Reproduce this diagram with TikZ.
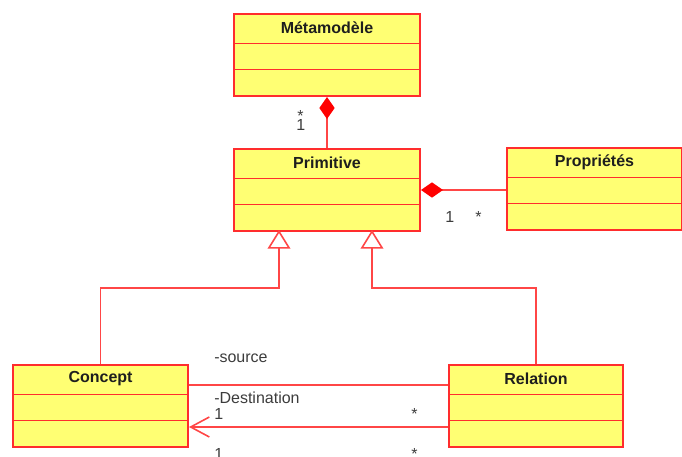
\documentclass[tikz,border=0pt]{standalone}
\usepackage{fontspec}
\setmainfont{Liberation Sans}
\usetikzlibrary{arrows.meta}
\definecolor{umlfill}{RGB}{255,255,115}
\definecolor{umlborder}{RGB}{255,45,45}
\definecolor{umlline}{RGB}{255,70,70}
\definecolor{titlecol}{RGB}{30,30,30}
\definecolor{labelcol}{RGB}{60,60,60}
\tikzset{
  clsbox/.style={draw=umlborder, fill=umlfill, line width=1.5pt, anchor=north west,
    inner sep=0pt, minimum height=61.5pt},
  sepline/.style={draw=umlborder, line width=1.4pt},
  clstitle/.style={font=\bfseries\fontsize{12}{14}\selectfont, text=titlecol, inner sep=0pt},
  lbl/.style={font=\fontsize{12}{14}\selectfont, text=labelcol, inner sep=0pt, anchor=base west},
  conn/.style={draw=umlline, line width=1.2pt},
  compo/.style={conn, {Diamond[length=16.5pt,width=11.5pt,fill=red,color=red]}-},
  gen/.style={conn, -{Triangle[open,length=14pt,width=17pt,fill=white]}},
  nav/.style={conn, {Straight Barb[length=14pt,width=15pt]}-}
}
\newcommand{\umlclass}[5]{%
  \node[clsbox, minimum width=#4*0.75pt] (#1) at (#2,#3) {};
  \draw[sepline] ([yshift=-30.5*0.75pt]#1.north west) -- ([yshift=-30.5*0.75pt]#1.north east);
  \draw[sepline] ([yshift=-56.5*0.75pt]#1.north west) -- ([yshift=-56.5*0.75pt]#1.north east);
  \node[clstitle] (#1t) at ([yshift=-15*0.75pt]#1.north) {#5};
}
\begin{document}
\begin{tikzpicture}[x=0.75pt,y=-0.75pt]
\useasboundingbox (0,0) rectangle (682,457);
\umlclass{meta}{233}{13}{186}{Métamodèle}
\umlclass{prim}{233}{148}{186}{Primitive}
\umlclass{props}{506}{147}{175}{Propriétés}
\umlclass{concept}{12}{364}{175}{Concept}
\umlclass{relation}{448}{364}{174}{Relation}

% composition Métamodèle - Primitive
\draw[compo] (meta.south) -- (prim.north);
\node[lbl] (m1) at (297,121) {*};
\node[lbl] (m2) at (296,130) {1};

% composition Primitive - Propriétés
\draw[compo] (prim.east) -- (props.west |- prim.east);
\node[lbl] (p1) at (445,222) {1};
\node[lbl] (p2) at (475,222) {*};

% generalizations
\coordinate (g1) at (279,230);
\coordinate (g2) at (372,230);
\coordinate (k1) at (279,288);
\coordinate (k2) at (372,288);
\draw[gen] (concept.north) |- (k1) -- (g1);
\draw[gen] (relation.north) |- (k2) -- (g2);

% associations Concept - Relation
\draw[conn] ([yshift=-21*0.75pt]concept.north east) -- ([yshift=-21*0.75pt]relation.north west);
\draw[nav] ([yshift=-63*0.75pt]concept.north east) -- ([yshift=-63*0.75pt]relation.north west);

\node[lbl] (s1) at (214,362) {-source};
\node[lbl] (d1) at (214,403) {-Destination};
\node[lbl] (c1) at (214,419) {1};
\node[lbl] (c2) at (411,419) {*};
\node[lbl] (c3) at (214,459) {1};
\node[lbl] (c4) at (411,459) {*};
\end{tikzpicture}
\end{document}
